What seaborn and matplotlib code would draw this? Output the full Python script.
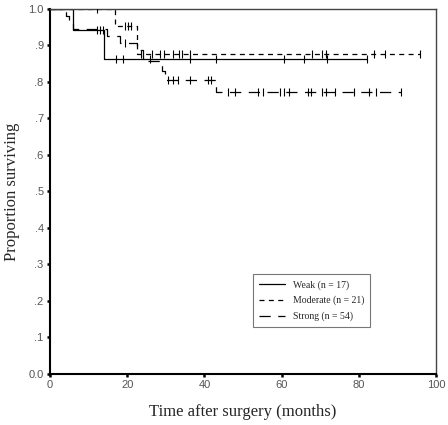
import matplotlib
matplotlib.use("Agg")
import matplotlib.pyplot as plt
from matplotlib.lines import Line2D
import seaborn as sns
import pandas as pd
import numpy as np

# Kaplan-Meier steps (time in months, proportion surviving)
weak_times = [0, 6.0, 14.0, 82.2]
weak_surv = [1.0, 0.941, 0.862, 0.862]
weak_cens = [12.1, 12.9, 13.7, 17.0, 18.9, 25.8, 36.2, 43.1, 60.7, 65.9, 71.7, 82.2]

mod_times = [0, 16.8, 22.6, 95.8]
mod_surv = [1.0, 0.952, 0.877, 0.877]
mod_cens = [12.1, 19.4, 20.2, 21.1, 23.7, 26.3, 28.4, 29.6, 31.9, 33.4, 34.3, 36.2,
            67.8, 70.5, 71.4, 83.9, 86.9, 95.8]

str_times = [0, 4.1, 5.0, 6.0, 14.8, 18.1, 22.6, 24.0, 29.0, 29.8, 43.1, 91.0]
str_surv = [1.0, 0.981, 0.963, 0.944, 0.925, 0.906, 0.887, 0.856, 0.830, 0.806, 0.773, 0.773]
str_cens = [19.4, 30.6, 31.9, 33.1, 36.2, 40.9, 41.8, 46.0, 47.8, 54.0, 55.3, 59.7, 60.7,
            62.0, 66.9, 67.7, 70.5, 71.6, 73.9, 78.8, 82.7, 84.5, 91.0]

labels = ["Weak (n = 17)", "Moderate (n = 21)", "Strong (n = 54)"]
x_ticks = [0, 20, 40, 60, 80, 100]
y_ticks = [0.0, 0.1, 0.2, 0.3, 0.4, 0.5, 0.6, 0.7, 0.8, 0.9, 1.0]
y_ticklabels = ["0.0", ".1", ".2", ".3", ".4", ".5", ".6", ".7", ".8", ".9", "1.0"]

groups = [(weak_times, weak_surv, weak_cens),
          (mod_times, mod_surv, mod_cens),
          (str_times, str_surv, str_cens)]

curve_rows = []
cens_rows = []
for lab, (t, s, c) in zip(labels, groups):
    for ti, si in zip(t, s):
        curve_rows.append({"group": lab, "time": ti, "surv": si})
    t_arr = np.array(t)
    s_arr = np.array(s)
    for ci in c:
        idx = np.searchsorted(t_arr, ci, side="right") - 1
        cens_rows.append({"group": lab, "time": ci, "surv": s_arr[idx]})
curves = pd.DataFrame(curve_rows)
cens = pd.DataFrame(cens_rows)

sns.set_style("ticks")
plt.rcParams["font.family"] = ["Liberation Serif", "DejaVu Serif"]

dash_map = {labels[0]: "", labels[1]: (4, 3.5), labels[2]: (9, 6)}

fig = plt.figure(figsize=(4.48, 4.25), dpi=100)
ax = fig.add_axes([0.1116, 0.12, 0.8616, 0.859])

for lab in labels:
    sub = curves[curves["group"] == lab]
    sns.lineplot(data=sub, x="time", y="surv", color="black", linewidth=0.9,
                 drawstyle="steps-post", estimator=None, sort=False, ax=ax,
                 dashes=False)
    line = ax.get_lines()[-1]
    if dash_map[lab]:
        line.set_dashes(dash_map[lab])
    sub_c = cens[cens["group"] == lab]
    sns.scatterplot(data=sub_c, x="time", y="surv", marker="|", s=28,
                    color="black", linewidth=0.8, ax=ax, zorder=3)

ax.set_xlim(0, 100)
ax.set_ylim(0, 1.0)
ax.set_xticks(x_ticks)
ax.set_yticks(y_ticks)
ax.set_yticklabels(y_ticklabels)
for lbl in ax.get_xticklabels() + ax.get_yticklabels():
    lbl.set_family(["Liberation Sans", "DejaVu Sans"])
    lbl.set_fontsize(8)
    lbl.set_color("#555555")
ax.tick_params(direction="out", length=2.5, width=1.8, color="black", pad=2)

for side in ["left", "bottom"]:
    ax.spines[side].set_linewidth(1.5)
    ax.spines[side].set_color("black")
for side in ["top", "right"]:
    ax.spines[side].set_visible(True)
    ax.spines[side].set_linewidth(1.0)
    ax.spines[side].set_color("#444444")

ax.set_xlabel("Time after surgery (months)", fontsize=12, labelpad=10)
ax.set_ylabel("Proportion surviving", fontsize=12, labelpad=6)

handles = [Line2D([], [], color="black", linewidth=0.9),
           Line2D([], [], color="black", linewidth=0.9, dashes=dash_map[labels[1]]),
           Line2D([], [], color="black", linewidth=0.9, dashes=dash_map[labels[2]])]
leg = ax.legend(handles, labels, loc="upper left", bbox_to_anchor=(0.514, 0.287),
                fontsize=7, frameon=True, fancybox=False, handlelength=2.7,
                borderpad=0.6, labelspacing=0.65, handletextpad=0.8)
leg.get_frame().set_edgecolor("#555555")
leg.get_frame().set_linewidth(0.8)

fig.savefig("out.png", dpi=100)
